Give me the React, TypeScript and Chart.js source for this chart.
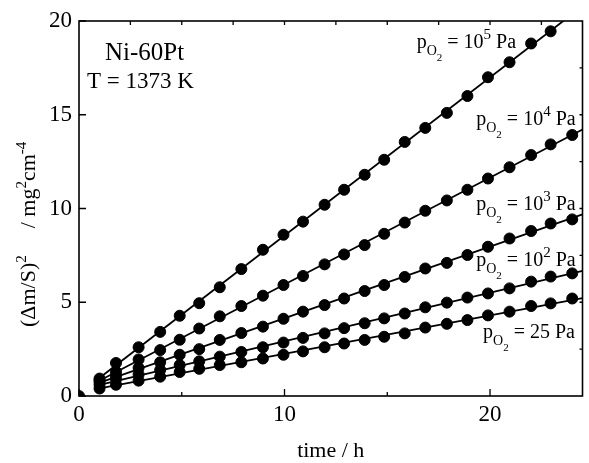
import React, { useEffect, useRef } from "react";
import { Chart, registerables } from "chart.js";

Chart.register(...registerables);

// ---- data ----
const times = [1, 1.8, 2.9, 3.95, 4.9, 5.85, 6.85, 7.9, 8.95, 9.95, 10.9, 11.95, 12.9, 13.9, 14.85, 15.85, 16.85, 17.9, 18.9, 19.9, 20.95, 22, 22.95, 24];

// pO2 = 10^5 Pa (23 points, last one at ~23 h)
const series1e5 = [0.93, 1.76, 2.6, 3.42, 4.28, 4.95, 5.8, 6.77, 7.8, 8.6, 9.3, 10.2, 11.0, 11.8, 12.6, 13.55, 14.3, 15.1, 16.0, 17.0, 17.8, 18.8, 19.45];
// pO2 = 10^4 Pa
const series1e4 = [0.85, 1.3, 1.95, 2.45, 3.0, 3.6, 4.25, 4.8, 5.35, 5.92, 6.4, 7.02, 7.55, 8.05, 8.65, 9.25, 9.88, 10.43, 11.0, 11.6, 12.2, 12.85, 13.42, 13.92];
// pO2 = 10^3 Pa
const series1e3 = [0.75, 1.1, 1.5, 1.8, 2.2, 2.5, 2.99, 3.36, 3.7, 4.12, 4.5, 4.85, 5.2, 5.6, 5.92, 6.35, 6.8, 7.1, 7.52, 7.96, 8.4, 8.8, 9.2, 9.42];
// pO2 = 10^2 Pa
const series1e2 = [0.6, 0.9, 1.15, 1.39, 1.65, 1.85, 2.1, 2.35, 2.6, 2.85, 3.1, 3.34, 3.62, 3.88, 4.14, 4.4, 4.73, 4.98, 5.25, 5.47, 5.74, 6.1, 6.37, 6.54];
// pO2 = 25 Pa
const series25 = [0.4, 0.6, 0.82, 1.03, 1.28, 1.45, 1.65, 1.8, 2.0, 2.2, 2.38, 2.6, 2.8, 2.99, 3.16, 3.34, 3.65, 3.85, 4.05, 4.3, 4.5, 4.8, 4.94, 5.2];

const originPoint = [{ x: 0, y: 0 }];

const seriesList = [series1e5, series1e4, series1e3, series1e2, series25];
const seriesExponents = ["5", "4", "3", "2", ""];
const seriesValues = ["10", "10", "10", "10", "25"];

const xTicks = [0, 5, 10, 15, 20];
const xLabelled = [0, 10, 20];
const yTicks = [0, 5, 10, 15, 20];
const xMin = 0;
const xMax = 24.5;
const yMin = 0;
const yMax = 20;
const fitStart = 0.8;

// ---- layout / style ----
const FONT = "'Liberation Serif', 'Times New Roman', Times, serif";
const W = 589;
const H = 463;

// label anchors: [left-edge time, baseline value]
const labelAnchors: [number, number][] = [
  [16.43, 18.56],
  [19.33, 14.45],
  [19.33, 9.92],
  [19.33, 6.93],
  [19.66, 3.09],
];

type Part = { t: string; size: number; dy: number; gap?: number };

function drawParts(ctx: CanvasRenderingContext2D, parts: Part[], x: number, y: number) {
  let cx = x;
  ctx.textAlign = "left";
  for (const p of parts) {
    ctx.font = `${p.size}px ${FONT}`;
    cx += p.gap || 0;
    ctx.fillText(p.t, cx, y + p.dy);
    cx += ctx.measureText(p.t).width;
  }
}

function fitLine(xs: number[], ys: number[]) {
  const n = ys.length;
  let sx = 0, sy = 0, sxx = 0, sxy = 0;
  for (let i = 0; i < n; i++) {
    sx += xs[i]; sy += ys[i]; sxx += xs[i] * xs[i]; sxy += xs[i] * ys[i];
  }
  const slope = (n * sxy - sx * sy) / (n * sxx - sx * sx);
  const icpt = (sy - slope * sx) / n;
  return [
    { x: fitStart, y: icpt + slope * fitStart },
    { x: xMax, y: icpt + slope * xMax },
  ];
}

const decorPlugin = {
  id: "decor",
  afterDraw(chart: any) {
    const ctx: CanvasRenderingContext2D = chart.ctx;
    const { left, right, top, bottom } = chart.chartArea;
    const xs = chart.scales.x;
    const ys = chart.scales.y;
    ctx.save();
    ctx.strokeStyle = "#000";
    ctx.fillStyle = "#000";
    ctx.lineWidth = 1.6;
    ctx.strokeRect(left, top, right - left, bottom - top);

    ctx.lineWidth = 1.3;
    ctx.beginPath();
    for (const v of xTicks) {
      const px = xs.getPixelForValue(v);
      const len = xLabelled.includes(v) ? 7 : 4;
      ctx.moveTo(px, bottom);
      ctx.lineTo(px, bottom - len);
    }
    for (let v = 2.5; v < xMax; v += 2.5) {
      const px = xs.getPixelForValue(v);
      ctx.moveTo(px, top);
      ctx.lineTo(px, top + 4);
    }
    for (const v of yTicks) {
      const py = ys.getPixelForValue(v);
      ctx.moveTo(left, py);
      ctx.lineTo(left + 7, py);
    }
    for (let v = 2.5; v < yMax; v += 2.5) {
      const py = ys.getPixelForValue(v);
      ctx.moveTo(right, py);
      ctx.lineTo(right - 3, py);
    }
    ctx.stroke();

    ctx.textBaseline = "alphabetic";

    drawParts(ctx, [{ t: "Ni-60Pt", size: 25, dy: 0 }], 105, 60);
    drawParts(ctx, [{ t: "T = 1373 K", size: 23, dy: 0 }], 87, 88);

    seriesList.forEach((_, i) => {
      const [tx, ty] = labelAnchors[i];
      const px = xs.getPixelForValue(tx);
      const py = ys.getPixelForValue(ty);
      const parts: Part[] = [
        { t: "p", size: 20, dy: 0 },
        { t: "O", size: 14, dy: 7 },
        { t: "2", size: 11, dy: 13 },
        { t: " = " + seriesValues[i], size: 20, dy: 0 },
      ];
      if (seriesExponents[i]) parts.push({ t: seriesExponents[i], size: 15, dy: -9 });
      parts.push({ t: " Pa", size: 20, dy: 0 });
      drawParts(ctx, parts, px, py);
    });

    ctx.font = `22px ${FONT}`;
    ctx.textAlign = "center";
    ctx.fillText("time / h", (left + right) / 2, 457);

    ctx.save();
    ctx.translate(35, 327);
    ctx.rotate(-Math.PI / 2);
    drawParts(
      ctx,
      [
        { t: "(\u0394m/S)", size: 22, dy: 0 },
        { t: "2", size: 15, dy: -9 },
        { t: "/ mg", size: 22, dy: 0, gap: 27 },
        { t: "2", size: 15, dy: -9 },
        { t: "cm", size: 22, dy: 0 },
        { t: "-4", size: 15, dy: -9 },
      ],
      0,
      0
    );
    ctx.restore();
    ctx.restore();
  },
};

export default function App() {
  const ref = useRef<HTMLCanvasElement | null>(null);

  useEffect(() => {
    if (!ref.current) return;
    const pointSets = seriesList.map((s) => ({
      type: "scatter" as const,
      data: s.map((v, i) => ({ x: times[i], y: v })),
      showLine: false,
      pointRadius: 5.5,
      pointBorderWidth: 1,
      pointBackgroundColor: "#000",
      pointBorderColor: "#000",
      pointHoverRadius: 5.5,
      clip: 0,
    }));
    const lineSets = seriesList.map((s) => ({
      type: "line" as const,
      data: fitLine(times.slice(0, s.length), s),
      showLine: true,
      borderColor: "#000",
      borderWidth: 1.8,
      pointRadius: 0,
      fill: false,
      tension: 0,
      clip: 0,
    }));
    const originSet = {
      type: "scatter" as const,
      data: originPoint,
      pointRadius: 5.5,
      pointBorderWidth: 1,
      pointBackgroundColor: "#000",
      pointBorderColor: "#000",
      clip: 0,
    };

    const chart = new Chart(ref.current, {
      type: "scatter",
      data: { datasets: [...lineSets, ...pointSets, originSet] as any },
      options: {
        animation: false,
        responsive: false,
        maintainAspectRatio: false,
        events: [],
        layout: { padding: { top: 21, right: 1, left: 0, bottom: 0 } },
        plugins: { legend: { display: false }, tooltip: { enabled: false }, title: { display: false } },
        scales: {
          x: {
            type: "linear",
            min: xMin,
            max: xMax,
            grid: { display: false, drawTicks: false },
            border: { display: false },
            ticks: {
              stepSize: 5,
              includeBounds: false,
              padding: 5,
              color: "#000",
              font: { family: FONT, size: 23 },
              maxRotation: 0,
              callback: (v: any) => (xLabelled.includes(Number(v)) ? String(v) : ""),
            },
            afterFit: (s: any) => {
              s.height = 67;
            },
          },
          y: {
            type: "linear",
            min: yMin,
            max: yMax,
            grid: { display: false, drawTicks: false },
            border: { display: false },
            ticks: {
              stepSize: 5,
              padding: 7,
              color: "#000",
              font: { family: FONT, size: 23 },
            },
            afterFit: (s: any) => {
              s.width = 79;
            },
          },
        },
      },
      plugins: [decorPlugin],
    });
    return () => chart.destroy();
  }, []);

  return (
    <div style={{ position: "fixed", left: 0, top: 0, width: W, height: H, background: "#fff" }}>
      <canvas ref={ref} width={W} height={H} style={{ display: "block" }} />
    </div>
  );
}
